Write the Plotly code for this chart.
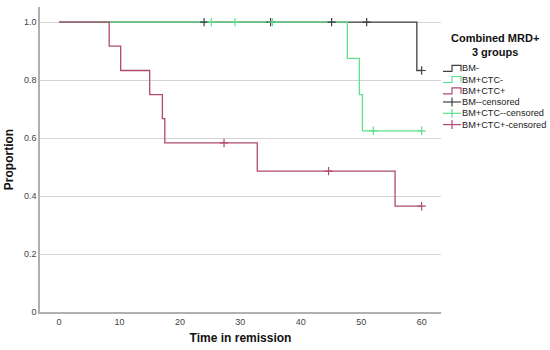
import plotly.graph_objects as go

# ---- data ----
group_names = ["BM-", "BM+CTC-", "BM+CTC+"]
censor_names = ["BM--censored", "BM+CTC--censored", "BM+CTC+-censored"]
colors = ["#404040", "#5fe08a", "#b04a70"]

bm_times = [0, 59.2, 60]
bm_surv = [1.0, 0.833, 0.833]
bm_cens_t = [24.0, 35.0, 45.1, 50.9, 60.0]
bm_cens_s = [1.0, 1.0, 1.0, 1.0, 0.833]

ctcneg_times = [0, 47.7, 49.7, 50.2, 60]
ctcneg_surv = [1.0, 0.875, 0.75, 0.625, 0.625]
ctcneg_cens_t = [25.2, 29.1, 35.3, 52.0, 60.0]
ctcneg_cens_s = [1.0, 1.0, 1.0, 0.625, 0.625]

ctcpos_times = [0, 8.3, 10.2, 15.0, 17.1, 17.5, 32.8, 55.6, 60]
ctcpos_surv = [1.0, 0.917, 0.833, 0.75, 0.667, 0.583, 0.486, 0.365, 0.365]
ctcpos_cens_t = [27.3, 44.6, 60.0]
ctcpos_cens_s = [0.583, 0.486, 0.365]

x_ticks = [0, 10, 20, 30, 40, 50, 60]
y_ticks = [0, 0.2, 0.4, 0.6, 0.8, 1.0]
y_ticklabels = ["0", "0.2", "0.4", "0.6", "0.8", "1.0"]

steps = [(bm_times, bm_surv), (ctcneg_times, ctcneg_surv), (ctcpos_times, ctcpos_surv)]
cens = [(bm_cens_t, bm_cens_s), (ctcneg_cens_t, ctcneg_cens_s), (ctcpos_cens_t, ctcpos_cens_s)]

fig = go.Figure()
for i in range(3):
    t, s = steps[i]
    fig.add_trace(go.Scatter(x=t, y=s, mode="lines", line=dict(color=colors[i], width=1.3, shape="hv"),
                             name=group_names[i], showlegend=False, hoverinfo="skip"))
for i in range(3):
    t, s = cens[i]
    fig.add_trace(go.Scatter(x=t, y=s, mode="markers",
                             marker=dict(symbol="cross-thin", size=6, line=dict(color=colors[i], width=1.2)),
                             name=censor_names[i], showlegend=False))

W, H = 550, 350
L, R, T, B = 40, 109, 7, 38
pw, ph = W - L - R, H - T - B

def px(X):
    return (X - L) / pw

def py(Y):
    return (H - B - Y) / ph

shapes = []
annotations = []
# legend title
annotations.append(dict(x=px(495), y=py(45), xref="paper", yref="paper", xanchor="center", yanchor="middle",
                        text="<b>Combined MRD+<br>3 groups</b>", showarrow=False,
                        font=dict(family="Arial", size=11, color="#111111"), align="center"))
legend_names = group_names + censor_names
legend_colors = colors + colors
row_y = [68.3, 79.5, 90.8, 102.0, 113.3, 124.6]
for k in range(6):
    yc = row_y[k]
    c = legend_colors[k]
    if k < 3:
        path = "M {},{} L {},{} L {},{} L {},{} L {},{}".format(
            px(443), py(yc + 3), px(452), py(yc + 3), px(452), py(yc - 3), px(461), py(yc - 3), px(461), py(yc + 3))
        shapes.append(dict(type="path", xref="paper", yref="paper", path=path, line=dict(color=c, width=1.2)))
    else:
        shapes.append(dict(type="line", xref="paper", yref="paper", x0=px(443), x1=px(461), y0=py(yc), y1=py(yc),
                           line=dict(color=c, width=1.2)))
        shapes.append(dict(type="line", xref="paper", yref="paper", x0=px(452), x1=px(452), y0=py(yc - 4.5), y1=py(yc + 4.5),
                           line=dict(color=c, width=1.2)))
    annotations.append(dict(x=px(460), y=py(yc), xref="paper", yref="paper", xanchor="left", yanchor="middle",
                            text=legend_names[k], showarrow=False,
                            font=dict(family="Arial", size=9.2, color="#222222")))

fig.update_layout(
    width=W, height=H,
    margin=dict(l=L, r=R, t=T, b=B, autoexpand=False),
    paper_bgcolor="white", plot_bgcolor="white",
    showlegend=False,
    shapes=shapes, annotations=annotations,
    font=dict(family="Arial", size=9, color="#333333"),
    xaxis=dict(range=[-3.15, 63.2], tickvals=x_ticks, showgrid=False, zeroline=False, automargin=False,
               showline=True, linecolor="#b0b0b0", linewidth=1.5, ticks="",
               tickfont=dict(size=9, color="#444444"),
               title=dict(text="<b>Time in remission</b>", font=dict(size=12, color="#111111"), standoff=8)),
    yaxis=dict(range=[0, 1.052], tickvals=y_ticks, ticktext=y_ticklabels, showgrid=True, automargin=False,
               gridcolor="#d4d4d4", gridwidth=1.3, zeroline=False,
               showline=True, linecolor="#b0b0b0", linewidth=1.5, ticks="",
               tickfont=dict(size=9, color="#444444"),
               title=dict(text="<b>Proportion</b>", font=dict(size=12, color="#111111"), standoff=8)),
)

fig.write_html("out.html", config={"displayModeBar": False},
               post_script="document.body.style.margin='0';")
